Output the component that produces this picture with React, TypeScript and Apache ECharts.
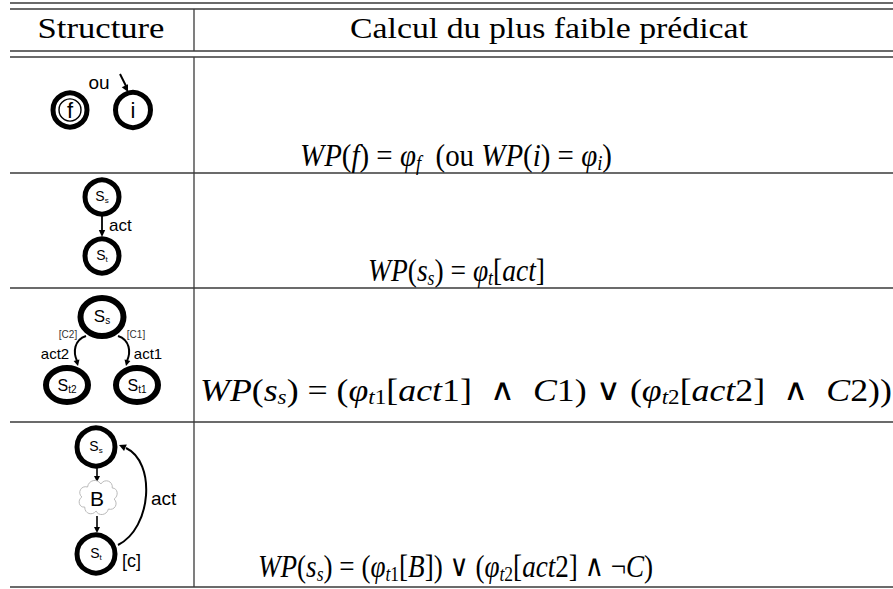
import React, { useEffect, useRef } from "react";
import * as echarts from "echarts";

// ---- content ----
const headers = ["Structure", "Calcul du plus faible prédicat"];
const NB = "\u00A0";
const formulaRows = [
  `{c|WP}{r|(}{i|f}{r|)${NB}=${NB}}{i|φ}{sub|f}{r|${NB}${NB}(ou${NB}}{c|WP}{r|(}{i|i}{r|)${NB}=${NB}}{i|φ}{sub|i}{r|)}`,
  `{c|WP}{r|(}{i|s}{sub|s}{r|)${NB}=${NB}}{i|φ}{sub|t}{r|[}{i|act}{r|]}`,
  `{c|WP}{r|(}{i|s}{sub|s}{r|)${NB}=${NB}(}{i|φ}{sub|t}{subr|1}{r|[}{i|act}{r|1]${NB}${NB}}{op|∧}{r|${NB}${NB}}{i|C}{r|1)${NB}}{op|∨}{r|${NB}(}{i|φ}{sub|t}{subr|2}{r|[}{i|act}{r|2]${NB}${NB}}{op|∧}{r|${NB}${NB}}{i|C}{r|2))}`,
  `{c|WP}{r|(}{i|s}{sub|s}{r|)${NB}=${NB}(}{i|φ}{sub|t}{subr|1}{r|[}{i|B}{r|])${NB}}{op|∨}{r|${NB}(}{i|φ}{sub|t}{subr|2}{r|[}{i|act}{r|2]${NB}}{op|∧}{r|${NB}¬}{i|C}{r|)}`,
];
const row1Labels = ["f", "i", "ou"];
const row2Labels = ["s", "t", "act"];
const row3Labels = ["s", "t2", "t1", "[C2]", "act2", "[C1]", "act1"];
const row4Labels = ["s", "B", "t", "act", "[c]"];

// ---- cloud shape ----
const cloudD =
  "M-14,10 C-20,11 -22,3 -17,0 C-22,-4 -18,-12 -11,-10 C-10,-17 -1,-19 3,-13 C7,-19 16,-16 15,-9 C21,-9 22,-1 17,2 C22,7 17,14 11,12 C9,19 0,19 -2,14 C-6,19 -14,17 -14,10 Z";
let registered = false;
function ensureShapes() {
  if (registered) return;
  echarts.graphic.registerShape("cloud", echarts.graphic.extendPath(cloudD, {}) as any);
  registered = true;
}

const SERIF = "'Liberation Serif', 'DejaVu Serif', serif";
const SANS = "'Liberation Sans', Arial, sans-serif";
const INK = "#000";
const RULE = "#3a3a3a";

function measureWidth(style: any) {
  const T: any = (echarts.graphic as any).Text;
  const t = new T({ style: { ...style } });
  return t.getBoundingRect().width || 1;
}

function hline(y: number, x1 = 10, x2 = 893) {
  return { type: "line", silent: true, shape: { x1, y1: y, x2, y2: y }, style: { stroke: RULE, lineWidth: 1.3 } };
}
function vline(x: number, y1: number, y2: number) {
  return { type: "line", silent: true, shape: { x1: x, y1, x2: x, y2 }, style: { stroke: RULE, lineWidth: 1.3 } };
}
function txt(text: string, x: number, y: number, size: number, family = SANS, align = "center", extra: any = {}) {
  return {
    type: "text",
    silent: true,
    x,
    y,
    style: {
      text,
      fontSize: size,
      fontFamily: family,
      fill: INK,
      align,
      verticalAlign: "middle",
      textAlign: align,
      textVerticalAlign: "middle",
      ...extra,
    },
  };
}
function fitText(text: string, cx: number, y: number, size: number, family: string, targetW: number) {
  const el: any = txt(text, cx, y, size, family);
  const w = measureWidth(el.style);
  el.scaleX = targetW / w;
  return el;
}
function stateLabel(sub: string, x: number, y: number, size: number) {
  const subSize = Math.round(size * 0.6);
  return {
    type: "text",
    silent: true,
    x,
    y,
    style: {
      text: `{m|S}{s|${sub}}`,
      align: "center",
      verticalAlign: "middle",
      textAlign: "center",
      textVerticalAlign: "middle",
      rich: {
        m: { fontSize: size, fontFamily: SANS, fill: INK, lineHeight: size + 2 },
        s: { fontSize: subSize, fontFamily: SANS, fill: INK, lineHeight: subSize, verticalAlign: "bottom" },
      },
    },
  };
}
function circ(cx: number, cy: number, r: number, lw: number) {
  return { type: "circle", silent: true, shape: { cx, cy, r }, style: { fill: "#fff", stroke: INK, lineWidth: lw } };
}
function ell(cx: number, cy: number, rx: number, ry: number, lw: number) {
  return { type: "ellipse", silent: true, shape: { cx, cy, rx, ry }, style: { fill: "#fff", stroke: INK, lineWidth: lw } };
}
function head(tx: number, ty: number, dx: number, dy: number, len = 7, half = 3.2) {
  const l = Math.hypot(dx, dy) || 1;
  const ux = dx / l, uy = dy / l;
  const bx = tx - ux * len, by = ty - uy * len;
  return {
    type: "polygon",
    silent: true,
    shape: { points: [[tx, ty], [bx - uy * half, by + ux * half], [bx + uy * half, by - ux * half]] },
    style: { fill: INK },
  };
}
function seg(x1: number, y1: number, x2: number, y2: number, lw = 1.8) {
  return { type: "line", silent: true, shape: { x1, y1, x2, y2 }, style: { stroke: INK, lineWidth: lw } };
}
function curve(x1: number, y1: number, cpx1: number, cpy1: number, cpx2: number, cpy2: number, x2: number, y2: number, lw = 2) {
  return {
    type: "bezierCurve",
    silent: true,
    shape: { x1, y1, cpx1, cpy1, cpx2, cpy2, x2, y2 },
    style: { stroke: INK, lineWidth: lw, fill: null },
  };
}

const mathRich = {
  r: { fontSize: 31, fontFamily: SERIF, fill: INK, lineHeight: 36 },
  i: { fontSize: 31, fontFamily: SERIF, fontStyle: "italic", fill: INK, lineHeight: 36 },
  c: { fontSize: 31, fontFamily: SERIF, fontStyle: "italic", fill: INK, lineHeight: 36 },
  op: { fontSize: 30, fontFamily: "'DejaVu Serif', serif", fill: INK, lineHeight: 36 },
  sub: { fontSize: 20, fontFamily: SERIF, fontStyle: "italic", fill: INK, lineHeight: 20, verticalAlign: "bottom" },
  subr: { fontSize: 20, fontFamily: SERIF, fill: INK, lineHeight: 20, verticalAlign: "bottom" },
};
function formula(text: string, cx: number, y: number, targetW: number) {
  const style = {
    text,
    align: "center",
    verticalAlign: "middle",
    textAlign: "center",
    textVerticalAlign: "middle",
    rich: mathRich,
  };
  const w = measureWidth(style);
  return { type: "text", silent: true, x: cx, y, scaleX: targetW / w, style };
}

function buildElements() {
  const els: any[] = [];
  // table rules
  [3, 9, 51, 57, 173, 288, 422, 587].forEach((y) => els.push(hline(y)));
  els.push(vline(194, 9, 51));
  els.push(vline(194, 57, 587));
  // headers
  els.push(fitText(headers[0], 101, 28, 30, SERIF, 127));
  els.push(fitText(headers[1], 549, 28, 30, SERIF, 398));
  // formulas
  els.push(formula(formulaRows[0], 456, 155, 312));
  els.push(formula(formulaRows[1], 456.5, 270, 177));
  els.push(formula(formulaRows[2], 546, 390, 692));
  els.push(formula(formulaRows[3], 455.5, 566, 395));

  // ---- row 1 ----
  els.push(circ(70, 110, 17, 5));
  els.push({ type: "circle", silent: true, shape: { cx: 70, cy: 110, r: 11 }, style: { fill: "#fff", stroke: INK, lineWidth: 1.4 } });
  els.push(txt(row1Labels[0], 70, 110, 22, SANS));
  els.push(circ(133, 110, 17.5, 5));
  els.push(txt(row1Labels[1], 133, 110, 22, SANS));
  els.push(txt(row1Labels[2], 99, 82, 19, SANS));
  els.push(seg(120, 74, 126, 86, 2));
  els.push(head(128, 92, 8, 16, 7, 3.5));

  // ---- row 2 ----
  els.push(circ(102, 197, 17, 5));
  els.push(stateLabel(row2Labels[0], 102, 196, 14));
  els.push(seg(102, 214, 102, 231, 1.8));
  els.push(head(102, 237, 0, 1, 7, 3.2));
  els.push(txt(row2Labels[2], 109, 225, 17, SANS, "left"));
  els.push(circ(102, 256, 17, 5));
  els.push(stateLabel(row2Labels[1], 102, 255, 14));

  // ---- row 3 ----
  els.push(curve(86, 336, 74, 340, 73, 352, 77, 361, 2));
  els.push(head(78, 366, 1, 4, 6, 3));
  els.push(curve(118, 336, 130, 340, 131, 352, 127, 361, 2));
  els.push(head(126, 366, -1, 4, 6, 3));
  els.push(ell(102, 317, 21.5, 19, 6));
  els.push(stateLabel(row3Labels[0], 102, 316, 17));
  els.push(ell(67, 385, 21, 17, 6));
  els.push(stateLabel(row3Labels[1], 67, 385, 16));
  els.push(ell(137, 385, 21, 17, 6));
  els.push(stateLabel(row3Labels[2], 137, 385, 16));
  els.push(txt(row3Labels[3], 68, 334, 10, SANS, "center", { fill: "#333" }));
  els.push(txt(row3Labels[4], 55, 353, 15, SANS));
  els.push(txt(row3Labels[5], 136, 334, 10, SANS, "center", { fill: "#333" }));
  els.push(txt(row3Labels[6], 148, 353, 15, SANS));

  // ---- row 4 ----
  els.push(curve(118, 545, 152, 528, 156, 462, 126, 448, 2));
  els.push(head(119, 445, -7, -3, 7, 3.5));
  els.push(seg(97, 466, 97, 477, 1.6));
  els.push(head(97, 482, 0, 1, 6, 3));
  els.push(seg(97, 516, 97, 527, 1.6));
  els.push(head(97, 533, 0, 1, 6, 3));
  els.push({
    type: "cloud",
    silent: true,
    x: 98,
    y: 497,
    scaleX: 0.95,
    scaleY: 1.0,
    style: { fill: "#fff", stroke: "#b8b8b8", lineWidth: 1 },
  });
  els.push(txt(row4Labels[1], 97, 498, 21, SANS));
  els.push(circ(96, 447, 19, 5));
  els.push(stateLabel(row4Labels[0], 96, 446, 14));
  els.push(circ(96, 554, 19, 5));
  els.push(stateLabel(row4Labels[2], 96, 553, 14));
  els.push(txt(row4Labels[3], 151, 498, 19, SANS, "left"));
  els.push(txt(row4Labels[4], 122, 561, 18, SANS, "left"));
  return els;
}

export default function App() {
  const ref = useRef<HTMLDivElement>(null);
  useEffect(() => {
    document.body.style.margin = "0";
    ensureShapes();
    const chart = echarts.init(ref.current!, null, { renderer: "svg" });
    chart.setOption({
      animation: false,
      backgroundColor: "#fff",
      graphic: { elements: buildElements() },
    });
    return () => chart.dispose();
  }, []);
  return <div ref={ref} style={{ position: "absolute", left: 0, top: 0, width: 893, height: 589, background: "#fff" }} />;
}
